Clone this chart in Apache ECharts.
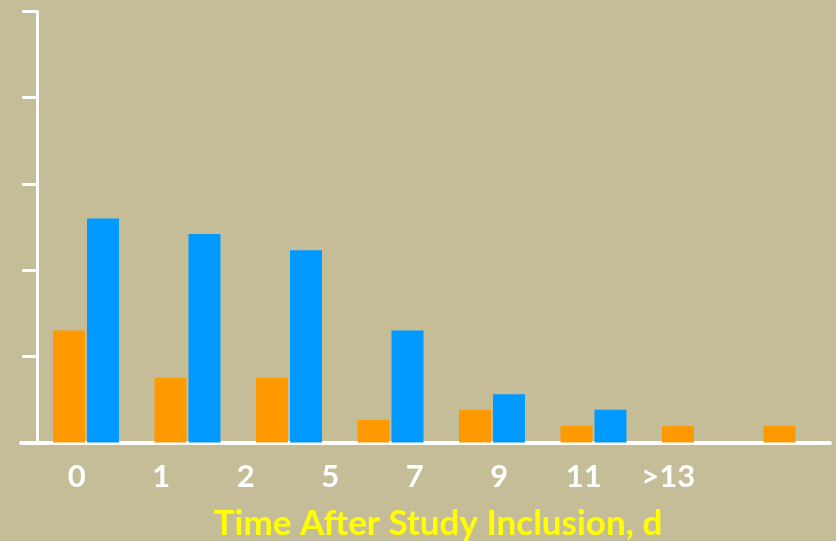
<!DOCTYPE html>
<html>
<head>
<meta charset="utf-8">
<script src="https://cdn.jsdelivr.net/npm/echarts@6/dist/echarts.min.js"></script>
<style>
  html, body { margin: 0; padding: 0; background: #C5BD98; }
  #chart { width: 836px; height: 541px; }
</style>
</head>
<body>
<div id="chart"></div>
<script>
// Days after study inclusion (category labels)
const categories = ['0', '1', '2', '5', '7', '9', '11', '>13'];
// Two groups of values per day
const seriesA = [13.0, 7.5, 7.5, 2.6, 3.8, 1.9, 1.9, 1.9];
const seriesB = [26.0, 24.2, 22.3, 13.0, 5.6, 3.8, null, null];
// Value axis range (unlabelled ticks)
const yMin = 0, yMax = 50, yStep = 10;

const axisTitle = 'Time After Study Inclusion, d';
const FONT = 'Lato, "Open Sans", sans-serif';

const chart = echarts.init(document.getElementById('chart'), null, { renderer: 'canvas' });

const gridTop = 11.5, gridBottom = 98.5;

chart.setOption({
  backgroundColor: '#C5BD98',
  animation: false,
  title: {
    text: axisTitle,
    left: 433,
    top: 501,
    textAlign: 'center',
    textStyle: { color: '#FFFF00', fontFamily: FONT, fontWeight: 'bold', fontSize: 35 }
  },
  grid: [
    // bars (wider than the canvas so the last group sits near the edge)
    { left: 35.25, width: 812, top: gridTop, bottom: gridBottom, containLabel: false, outerBoundsMode: 'none' },
    // category labels
    { left: 34.5, width: 676, top: gridTop, bottom: gridBottom, containLabel: false, outerBoundsMode: 'none' },
    // horizontal base line
    { left: 21, right: 6, top: gridTop, bottom: gridBottom, containLabel: false, outerBoundsMode: 'none' }
  ],
  xAxis: [
    {
      gridIndex: 0, type: 'category', data: categories,
      axisLine: { show: false }, axisTick: { show: false }, axisLabel: { show: false }
    },
    {
      gridIndex: 1, type: 'category', data: categories,
      axisLine: { show: false }, axisTick: { show: false },
      axisLabel: {
        show: true, color: '#FFFFFF', fontFamily: FONT, fontWeight: 'bold',
        fontSize: 31, margin: 19, interval: 0
      }
    },
    {
      gridIndex: 2, type: 'value', min: 0, max: 1,
      axisLine: { show: true, onZero: false, lineStyle: { color: '#FFFFFF', width: 4 } },
      axisTick: { show: false }, axisLabel: { show: false }, splitLine: { show: false }
    }
  ],
  yAxis: [
    {
      gridIndex: 0, type: 'value', min: yMin, max: yMax, interval: yStep, offset: -2,
      axisLine: { show: true, lineStyle: { color: '#FFFFFF', width: 3 } },
      axisTick: { show: true, length: 15, inside: false, lineStyle: { color: '#FFFFFF', width: 3 } },
      axisLabel: { show: false }, splitLine: { show: false }
    },
    { gridIndex: 1, type: 'value', show: false },
    { gridIndex: 2, type: 'value', show: false }
  ],
  series: [
    {
      name: 'Series A', type: 'bar', xAxisIndex: 0, yAxisIndex: 0,
      data: seriesA, barWidth: 32, barGap: '6.25%',
      itemStyle: { color: '#FF9900' }, z: 1
    },
    {
      name: 'Series B', type: 'bar', xAxisIndex: 0, yAxisIndex: 0,
      data: seriesB, barWidth: 32, barGap: '6.25%',
      itemStyle: { color: '#0099FF' }, z: 1
    }
  ]
});
</script>
</body>
</html>
